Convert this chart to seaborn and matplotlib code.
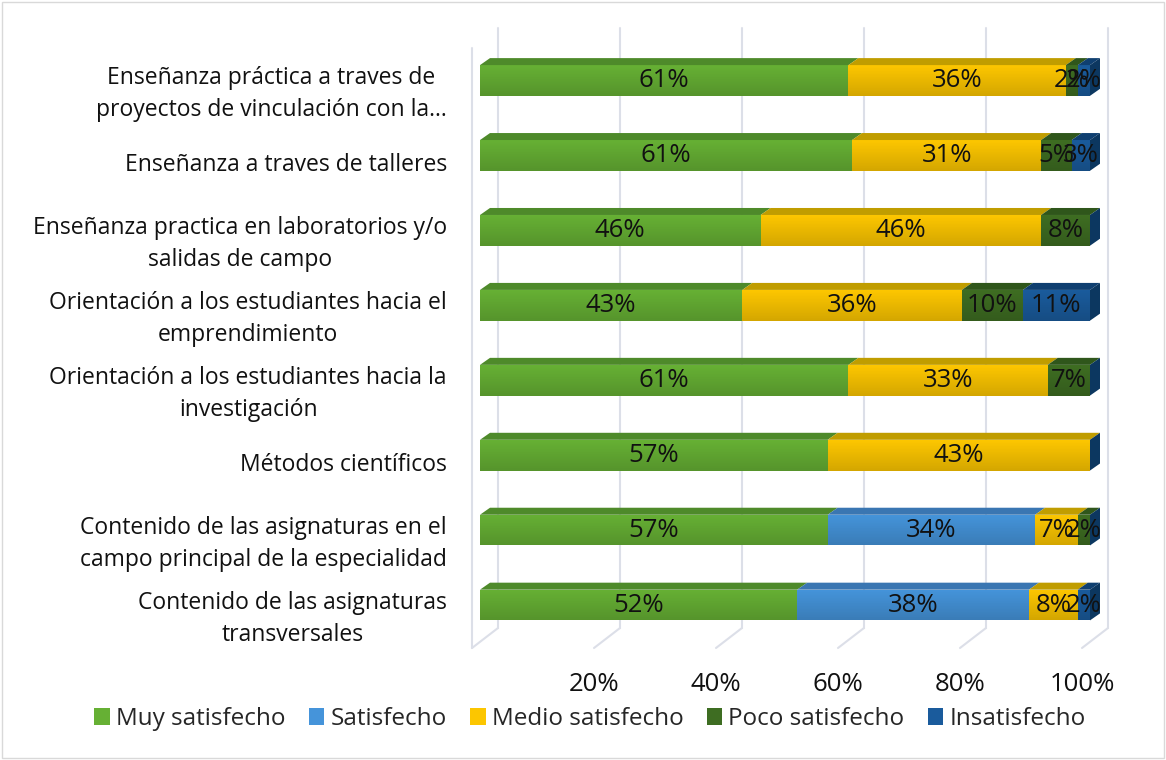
import numpy as np
import pandas as pd
import matplotlib
matplotlib.use("Agg")
import matplotlib.pyplot as plt
import seaborn as sns
from matplotlib.patches import Patch, Polygon, Rectangle
from matplotlib.lines import Line2D
from matplotlib.transforms import ScaledTranslation, IdentityTransform

# ---------------- data ----------------
categories = [
    "Enseñanza práctica a traves de\nproyectos de vinculación con la…",
    "Enseñanza a traves de talleres",
    "Enseñanza practica en laboratorios y/o\nsalidas de campo",
    "Orientación a los estudiantes hacia el\nemprendimiento",
    "Orientación a los estudiantes hacia la\ninvestigación",
    "Métodos científicos",
    "Contenido de las asignaturas en el\ncampo principal de la especialidad",
    "Contenido de las asignaturas\ntransversales",
]
series = ["Muy satisfecho", "Satisfecho", "Medio satisfecho", "Poco satisfecho", "Insatisfecho"]
muy_satisfecho = [61, 61, 46, 43, 61, 57, 57, 52]
satisfecho = [0, 0, 0, 0, 0, 0, 34, 38]
medio_satisfecho = [36, 31, 46, 36, 33, 43, 7, 8]
poco_satisfecho = [2, 5, 8, 10, 7, 0, 2, 0]
insatisfecho = [2, 3, 0, 11, 0, 0, 0, 2]
xtick_values = [20, 40, 60, 80, 100]
xtick_labels = ["20%", "40%", "60%", "80%", "100%"]

front_colors = ["#66b034", "#4594da", "#fcc600", "#3e6d22", "#1a5b9c"]
top_colors = ["#4e8a2a", "#3a76b2", "#c09d00", "#2f561b", "#0f3f70"]
side_color = "#0c3760"
grid_color = "#dcdfe8"

# ---------------- style ----------------
sns.set_theme(style="white")
plt.rcParams["font.family"] = ["Open Sans", "DejaVu Sans"]

DPI = 100
W, H = 1166, 760
fig = plt.figure(figsize=(W / DPI, H / DPI), dpi=DPI)
fig.patch.set_facecolor("white")
ax = fig.add_axes([480 / W, 1 - 642.5 / H, 610 / W, 599.5 / H])

values = np.array([muy_satisfecho, satisfecho, medio_satisfecho,
                   poco_satisfecho, insatisfecho], dtype=float)
shares = values / values.sum(axis=0) * 100.0
cum = np.cumsum(shares, axis=0)

BAR_W = 0.41
df = pd.DataFrame({"categoria": categories})
for i in reversed(range(len(series))):
    df["cum"] = cum[i]
    sns.barplot(data=df, y="categoria", x="cum", orient="h", color=front_colors[i],
                width=BAR_W, linewidth=0, saturation=1, errorbar=None, ax=ax, zorder=3)

# subtle vertical shading on the front faces (lighter top, darker bottom)
shade = np.zeros((32, 1, 4))
shade[:, 0, 3] = np.linspace(0.0, 0.16, 32)
for j in range(len(categories)):
    ax.imshow(shade, extent=(0, cum[-1, j], j + BAR_W / 2, j - BAR_W / 2),
              aspect="auto", interpolation="bilinear", zorder=3.5)

ax.set_xlim(0, 100)
ax.set_ylim(len(categories) - 0.5, -0.5)
ax.set_xlabel("")
ax.set_ylabel("")
for s in ax.spines.values():
    s.set_visible(False)
ax.grid(False)


def disp(v, yax, dx, dy):
    x = ax.transData.transform((v, 0))[0]
    y = ax.transAxes.transform((0, yax))[1]
    return (x + dx, y + dy)


# back wall gridlines, floor and left wall
for v in [0] + xtick_values:
    b0 = disp(v, 0, 18, 14.5)
    b1 = disp(v, 1, 18, 15)
    f0 = disp(v, 0, -8, -5.5)
    ax.add_line(Line2D([b0[0], b1[0]], [b0[1], b1[1]], color=grid_color, lw=1.5,
                       transform=IdentityTransform(), clip_on=False, zorder=1))
    ax.add_line(Line2D([b0[0], f0[0]], [b0[1], f0[1]], color=grid_color, lw=1.5,
                       transform=IdentityTransform(), clip_on=False, zorder=1))
lw0 = disp(0, 0, -8, -5.5)
lw1 = disp(0, 1, -8, -5)
ax.add_line(Line2D([lw0[0], lw1[0]], [lw0[1], lw1[1]], color=grid_color, lw=1.5,
                   transform=IdentityTransform(), clip_on=False, zorder=1))

# 3D top faces and side faces
DX, DY = 10, 7
for j in range(len(categories)):
    y_top = j - BAR_W / 2
    y_bot = j + BAR_W / 2
    for i in range(len(series)):
        if shares[i, j] <= 0:
            continue
        left = cum[i, j] - shares[i, j]
        right = cum[i, j]
        p1 = ax.transData.transform((left, y_top))
        p2 = ax.transData.transform((right, y_top))
        pts = [p1, p2, (p2[0] + DX, p2[1] + DY), (p1[0] + DX, p1[1] + DY)]
        ax.add_patch(Polygon(pts, closed=True, facecolor=top_colors[i], edgecolor="none",
                             transform=IdentityTransform(), clip_on=False, zorder=4))
    q1 = ax.transData.transform((cum[-1, j], y_top))
    q2 = ax.transData.transform((cum[-1, j], y_bot))
    pts = [q1, (q1[0] + DX, q1[1] + DY), (q2[0] + DX, q2[1] + DY), q2]
    ax.add_patch(Polygon(pts, closed=True, facecolor=side_color, edgecolor="none",
                         transform=IdentityTransform(), clip_on=False, zorder=4))

# data labels
for j in range(len(categories)):
    for i in range(len(series)):
        if values[i, j] <= 0:
            continue
        xc = cum[i, j] - shares[i, j] / 2
        ax.text(xc, j, f"{int(values[i, j])}%", ha="center", va="center",
                fontsize=18.5, color="#111111", zorder=6)

# axis ticks
ax.set_yticks(range(len(categories)))
ax.set_yticklabels(categories, fontsize=16.5, color="#111111", linespacing=1.42,
                   multialignment="center")
ax.tick_params(axis="y", length=0, pad=23.8)
for lab in ax.get_yticklabels():
    lab.set_transform(lab.get_transform() + ScaledTranslation(0, -7 / DPI, fig.dpi_scale_trans))

ax.set_xticks(xtick_values)
ax.set_xticklabels(xtick_labels, fontsize=18.5, color="#111111")
ax.tick_params(axis="x", length=0, pad=21)
for lab in ax.get_xticklabels():
    lab.set_transform(lab.get_transform() + ScaledTranslation(-8 / DPI, 0, fig.dpi_scale_trans))

# legend
handles = [Patch(facecolor=c, edgecolor="none") for c in front_colors]
fig.legend(handles, series, loc="center", bbox_to_anchor=(590 / W, 1 - 719 / H), ncol=5,
           frameon=False, fontsize=17.5, handlelength=0.65, handleheight=0.75,
           handletextpad=0.25, columnspacing=0.95)

# outer border
fig.patches.append(Rectangle((2 / W, 2 / H), 1 - 4 / W, 1 - 4 / H, transform=fig.transFigure,
                             fill=False, edgecolor="#d9d9d9", lw=1))

fig.savefig("out.png", dpi=DPI)
